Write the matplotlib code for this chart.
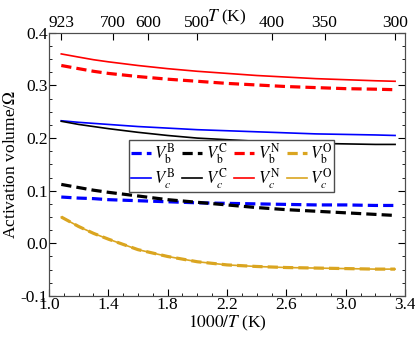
import numpy as np
import matplotlib.pyplot as plt
from matplotlib.ticker import MultipleLocator

plt.rcParams['font.family'] = ['Liberation Serif', 'DejaVu Serif']
plt.rcParams['mathtext.fontset'] = 'stix'

# 1000/T grid (T from 923 K down to 300 K)
x = [1.083, 1.2, 1.3, 1.4, 1.6, 1.8, 2.0, 2.2, 2.4, 2.6, 2.8, 3.0, 3.2, 3.333]

vb_B = [0.088, 0.086, 0.085, 0.083, 0.081, 0.079, 0.077, 0.076, 0.075, 0.074, 0.073, 0.073, 0.072, 0.072]
vb_C = [0.112, 0.106, 0.101, 0.097, 0.090, 0.083, 0.078, 0.073, 0.068, 0.064, 0.061, 0.058, 0.055, 0.053]
vb_N = [0.338, 0.332, 0.327, 0.323, 0.317, 0.312, 0.308, 0.304, 0.301, 0.298, 0.296, 0.294, 0.293, 0.292]
vb_O = [0.050, 0.032, 0.019, 0.008, -0.012, -0.025, -0.035, -0.041, -0.044, -0.046, -0.047, -0.048, -0.049, -0.049]

vc_B = [0.233, 0.230, 0.228, 0.226, 0.222, 0.219, 0.216, 0.214, 0.212, 0.210, 0.208, 0.207, 0.206, 0.205]
vc_C = [0.232, 0.226, 0.222, 0.218, 0.211, 0.205, 0.200, 0.197, 0.194, 0.192, 0.190, 0.189, 0.188, 0.188]
vc_N = [0.360, 0.354, 0.349, 0.345, 0.338, 0.332, 0.327, 0.323, 0.319, 0.316, 0.313, 0.311, 0.309, 0.308]
vc_O = [0.050, 0.032, 0.019, 0.008, -0.012, -0.025, -0.035, -0.041, -0.044, -0.046, -0.047, -0.048, -0.049, -0.049]

bottom_ticks = [1.0, 1.4, 1.8, 2.2, 2.6, 3.0, 3.4]
top_T = [923, 700, 600, 500, 400, 350, 300]

colors = ['blue', 'black', 'red', 'goldenrod']
names = ['B', 'C', 'N', 'O']

fig = plt.figure(figsize=(4.15, 3.39), dpi=100)
ax = fig.add_axes([0.118, 0.127, 0.858, 0.776])

hb = []
hc = []
for vc, c in zip([vc_B, vc_C, vc_N, vc_O], colors):
    l, = ax.plot(x, vc, color=c, lw=1.2)
    hc.append(l)
for vb, c in zip([vb_B, vb_C, vb_N, vb_O], colors):
    l, = ax.plot(x, vb, color=c, lw=2.3, ls=(0, (3.2, 1.6)))
    hb.append(l)

handles = []
labels = []
for i in range(4):
    handles += [hb[i], hc[i]]
    labels += [r'$V_{\rm b}^{\rm %s}$' % names[i], r'$V_{c}^{\rm %s}$' % names[i]]

ax.legend(handles, labels, ncol=4, loc='center', bbox_to_anchor=(0.513, 0.494),
          fontsize=12, handlelength=1.2, handletextpad=0.22, columnspacing=0.4,
          labelspacing=0.0, borderpad=0.08, borderaxespad=0, fancybox=False,
          edgecolor='0.3', framealpha=1)

ax.set_xlim(1.0, 3.4)
ax.set_ylim(-0.1, 0.4)
ax.set_xticks(bottom_ticks)
ax.xaxis.set_minor_locator(MultipleLocator(0.1))
ax.yaxis.set_major_locator(MultipleLocator(0.1))
ax.yaxis.set_minor_locator(MultipleLocator(0.025))
ax.xaxis.set_major_formatter(plt.FormatStrFormatter('%.1f'))
ax.yaxis.set_major_formatter(plt.FormatStrFormatter('%.1f'))
ax.tick_params(which='both', direction='in', right=True, labelsize=12.5, pad=1)
ax.tick_params(which='major', length=5)
ax.tick_params(which='minor', length=2.5)
ax.set_xlabel(r'$1000/T$ (K)', fontsize=12.5, labelpad=0)
ax.set_ylabel(r'Activation volume/$\Omega$', fontsize=12.5, labelpad=1)

ax2 = ax.twiny()
ax2.set_xlim(ax.get_xlim())
ax2.set_xticks([1000.0 / t for t in top_T])
ax2.set_xticklabels([str(t) for t in top_T])
ax2.tick_params(direction='in', length=5, labelsize=12.5, pad=1)
ax2.set_xlabel(r'$T$ (K)', fontsize=12.5, labelpad=-4)

for a in (ax, ax2):
    for s in a.spines.values():
        s.set_color('0.3')

fig.savefig('out.png', dpi=100)
